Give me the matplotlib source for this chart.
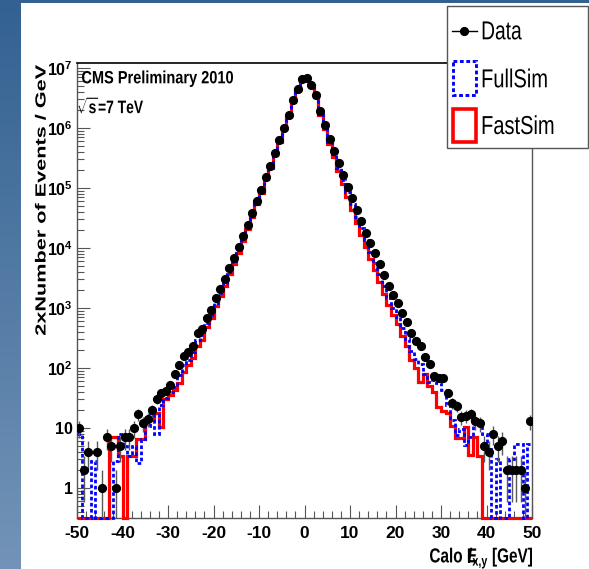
import numpy as np
import matplotlib
matplotlib.use("Agg")
import matplotlib.pyplot as plt
from matplotlib.ticker import MultipleLocator, FixedLocator, FuncFormatter, NullFormatter
from matplotlib.lines import Line2D
from matplotlib.patches import Rectangle, PathPatch
from matplotlib.textpath import TextPath
from matplotlib.font_manager import FontProperties
from matplotlib.transforms import Affine2D

# ---------------- data (bins of 1 GeV from -50 to 50) ----------------
bin_edges = list(range(-50, 51))

data_vals = [10, 2, 4, 0, 4, 1, 7, 5, 1, 5,
             7, 7, 10, 17, 12, 14, 20, 31, 39, 42,
             52, 78, 112, 158, 186, 230, 380, 450, 690, 930,
             1450, 2100, 3000, 4600, 6900, 10200, 15800, 24000, 38000, 60000,
             93000, 155000, 234000, 380000, 620000, 1000000, 1660000, 2900000, 4500000, 6600000,
             6900000, 5200000, 3500000, 1900000, 1100000, 660000, 420000, 260000, 166000, 105000,
             68000, 43000, 28000, 18000, 12300, 8100, 5400, 3550, 2350, 1660,
             1230, 810, 575, 390, 280, 232, 155, 115, 74, 69,
             69, 39, 26, 23, 15, 16, 17, 13, 12, 5,
             4, 8, 5, 6, 2, 2, 2, 2, 1, 13]

fullsim_vals = [8, 0, 0, 2.8, 0, 0, 0, 0, 2.8, 8,
                5, 3.4, 5, 2.6, 6.5, 11, 20, 8, 24, 32,
                40, 49, 76, 112, 138, 182, 288, 355, 560, 776,
                1230, 1780, 2630, 3980, 6170, 9120, 14500, 21900, 35500, 56200,
                89100, 148000, 224000, 372000, 603000, 977000, 1620000, 2880000, 4470000, 6610000,
                6920000, 5130000, 3390000, 1740000, 1020000, 589000, 363000, 219000, 138000, 85100,
                53700, 33100, 21400, 13500, 8710, 5620, 3630, 2290, 1480, 1000,
                708, 457, 309, 195, 141, 117, 78, 58, 63, 56,
                43, 24, 13.5, 7.6, 9.5, 5.2, 7.2, 13.5, 12.5, 8,
                4.5, 0, 3, 0, 0, 3, 5.4, 5.4, 0, 5.4]

fastsim_vals = [0, 0, 0, 0, 0, 0, 0, 7, 7, 3.4,
                0, 3.4, 3.4, 6.5, 6.5, 13.5, 13.5, 18, 10.5, 30,
                35, 43, 56, 85, 112, 145, 229, 295, 480, 676,
                1070, 1580, 2340, 3630, 5500, 8320, 13200, 20400, 33100, 53700,
                83200, 141000, 214000, 355000, 575000, 955000, 1580000, 2750000, 4370000, 6460000,
                6760000, 5010000, 3310000, 1660000, 955000, 537000, 324000, 191000, 117000, 70800,
                43700, 26300, 16600, 10200, 6610, 4270, 2690, 1740, 1120, 759,
                550, 347, 229, 138, 100, 59, 78, 51, 40, 22,
                19, 18, 11, 6.8, 6.8, 10.5, 3.5, 7.2, 3.4, 0,
                0, 0, 0, 0, 0, 0, 0, 0, 0, 0]

labels = ["Data", "FullSim", "FastSim"]
x_ticks_major = [-50, -40, -30, -20, -10, 0, 10, 20, 30, 40, 50]
y_ticks_major = [1, 10, 1e2, 1e3, 1e4, 1e5, 1e6, 1e7]

# ---------------- fonts ----------------
FONT = "Liberation Sans"
plt.rcParams["font.family"] = [FONT, "DejaVu Sans"]
plt.rcParams["mathtext.fontset"] = "custom"
plt.rcParams["mathtext.rm"] = FONT + ":bold"
plt.rcParams["mathtext.it"] = FONT + ":bold"
plt.rcParams["mathtext.bf"] = FONT + ":bold"
plt.rcParams["mathtext.default"] = "rm"

W, H = 589, 569
fig = plt.figure(figsize=(W / 100, H / 100), dpi=100)

# slide background
bgax = fig.add_axes([0, 0, 1, 1], zorder=-10)
t = np.linspace(0, 1, 256)[:, None]
top = np.array([0.20, 0.38, 0.57])
bot = np.array([0.45, 0.58, 0.72])
img = (top[None, None, :] * (1 - t[..., None]) + bot[None, None, :] * t[..., None])
img = np.repeat(img, 4, axis=1)
bgax.imshow(img, extent=[0, W, H, 0], aspect="auto")
bgax.add_patch(Rectangle((21, 3), W - 21, H - 3, facecolor="white", edgecolor="none"))
bgax.set_xlim(0, W)
bgax.set_ylim(H, 0)
bgax.set_xticks([])
bgax.set_yticks([])
bgax.axis("off")

# main axes
ax = fig.add_axes([77 / W, 1 - 518 / H, (532 - 77) / W, (518 - 63) / H])
ax.set_facecolor("white")
ax.set_yscale("log")
ymin, ymax = 10 ** -0.5, 10 ** 7.083
ax.set_xlim(-50, 50)
ax.set_ylim(ymin, ymax)

edges = np.array(bin_edges, dtype=float)
centers = edges[:-1] + 0.5
d = np.array(data_vals, dtype=float)
fs = np.array(fullsim_vals, dtype=float)
fa = np.array(fastsim_vals, dtype=float)

BLUE_LS = (0, (1.3, 0.9))
ax.stairs(np.maximum(fa, ymin), edges, baseline=None, color="#ff0000", lw=2.3, zorder=3, clip_on=False)
ax.stairs(np.maximum(fs, ymin), edges, baseline=None, color="#0000ff", lw=2.0,
          linestyle=BLUE_LS, zorder=4, clip_on=False)

m = d > 0
err = np.sqrt(d[m])
lo = np.minimum(err, d[m] * 0.999)
ax.errorbar(centers[m], d[m], yerr=[lo, err], fmt="o", color="black", ms=5.6,
            ecolor="0.35", elinewidth=1.0, capsize=0, zorder=5)

# ticks
ax.set_xticks(x_ticks_major)
ax.xaxis.set_minor_locator(MultipleLocator(2))
ax.yaxis.set_major_locator(FixedLocator(y_ticks_major))
minor_y = [k * v for v in [0.1] + y_ticks_major for k in range(2, 10) if ymin <= k * v <= ymax]
ax.yaxis.set_minor_locator(FixedLocator(minor_y))
ax.yaxis.set_minor_formatter(NullFormatter())


def yfmt(v, pos):
    e = int(round(np.log10(v)))
    if e == 0:
        return "1"
    if e == 1:
        return "10"
    return r"$10^{%d}$" % e


ax.yaxis.set_major_formatter(FuncFormatter(yfmt))
ax.xaxis.set_major_formatter(FuncFormatter(lambda v, p: "%d" % v))

ax.tick_params(which="both", direction="in", top=False, right=False, color="#555555", width=0.8)
ax.tick_params(which="major", length=9.5)
ax.tick_params(which="minor", length=5)
ax.tick_params(axis="x", which="major", pad=6, labelsize=12.5)
ax.tick_params(axis="y", which="major", pad=3.0, labelsize=11.5)
for lab in ax.get_xticklabels() + ax.get_yticklabels():
    lab.set_fontweight("bold")

for s in ["left", "right", "bottom"]:
    ax.spines[s].set_color("#555555")
    ax.spines[s].set_linewidth(1.0)
ax.spines["top"].set_color("black")
ax.spines["top"].set_linewidth(1.2)

# ---------------- overlay (pixel coordinates, origin top-left) ----------------
ov = fig.add_axes([0, 0, 1, 1], zorder=10)
ov.set_xlim(0, W)
ov.set_ylim(H, 0)
ov.set_xticks([])
ov.set_yticks([])
ov.axis("off")
ov.patch.set_alpha(0)


def ptext(s, x, y, cap, width, ha="left", weight="normal", rotation=0, color="black"):
    """Text drawn as a path so that its cap height and width match the reference."""
    fp = FontProperties(family=FONT, weight=weight)
    size = cap / 0.716
    tp = TextPath((0, 0), s, size=size, prop=fp)
    ext = tp.get_extents()
    sx = width / (ext.x1 - ext.x0)
    x0 = {"left": ext.x0, "right": ext.x1, "center": 0.5 * (ext.x0 + ext.x1)}[ha]
    tr = Affine2D().translate(-x0, 0).scale(sx, 1)
    if rotation:
        tr = tr.rotate_deg(rotation)
    tr = tr.scale(1, -1).translate(x, y)
    ov.add_patch(PathPatch(tr.transform_path(tp), facecolor=color, edgecolor="none", lw=0))


ptext("CMS Preliminary 2010", 82, 83.3, 12.7, 151, weight="bold")
ptext(r"$\sqrt{s}$=7 TeV", 78, 113.3, 13.0, 65, weight="bold")
ptext("2xNumber of Events / GeV", 45.5, 65, 10.5, 270, ha="right", weight="bold", rotation=90)
ptext(r"Calo $E\!\!\!\!/_{x{,}y}$ [GeV]", 532, 562.5, 14.5, 102, ha="right", weight="bold")

# legend (drawn by hand to match the reference box)
ov.add_patch(Rectangle((447, 6), 141.3, 142.3, facecolor="white", edgecolor="#555555", lw=1.0))
ov.add_line(Line2D([451.7, 476.7], [31, 31], color="black", lw=1.0))
ov.add_line(Line2D([464.2], [31], color="black", marker="o", ms=5.6, lw=0))
ov.add_patch(Rectangle((452.5, 61), 23.5, 33.5, facecolor="none", edgecolor="#0000ff", lw=2.1,
                       linestyle=BLUE_LS))
ov.add_patch(Rectangle((452.5, 108.5), 23.5, 33, facecolor="none", edgecolor="#ff0000", lw=2.6))
ptext(labels[0], 482.7, 39.3, 18.6, 39)
ptext(labels[1], 482.7, 87.3, 18.6, 64)
ptext(labels[2], 482.7, 134.0, 18.6, 70.6)

fig.savefig("out.png", dpi=100)
